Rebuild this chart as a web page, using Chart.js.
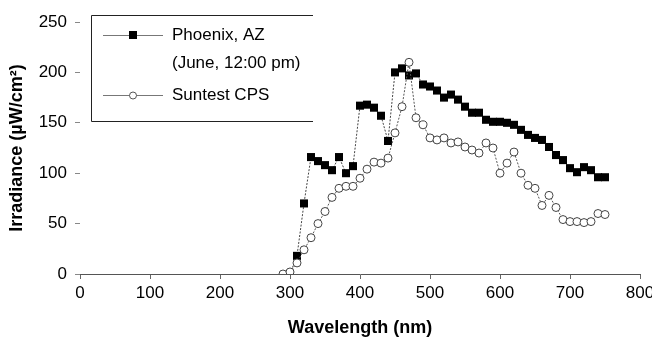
<!DOCTYPE html>
<html>
<head>
    <title>Irradiance spectrum</title>
    <meta charset="UTF-8">
    <style>
        html, body { margin: 0; padding: 0; background: #fff; }
        #wrap { width: 652px; height: 339px; }
    </style>
</head>
<body>
<div id="wrap"><canvas id="myChart" width="652" height="339"></canvas></div>
<script src="https://cdn.jsdelivr.net/npm/chart.js@4/dist/chart.umd.min.js"></script>
<script>
    // wavelengths (nm), one point every 10 nm
    const wavelengths = [290, 300, 310, 320, 330, 340, 350, 360, 370, 380, 390,
        400, 410, 420, 430, 440, 450, 460, 470, 480, 490,
        500, 510, 520, 530, 540, 550, 560, 570, 580, 590,
        600, 610, 620, 630, 640, 650, 660, 670, 680, 690,
        700, 710, 720, 730, 740, 750];
    // irradiance, uW/cm2 (null = no reading)
    const phoenix = [null, 0, 18, 70, 116, 112, 108, 103, 116, 100, 107,
        167, 168, 165, 157, 132, 200, 204, 197, 199, 188,
        186, 182, 175, 178, 173, 166, 160, 160, 153, 151,
        151, 150, 148, 143, 138, 135, 133, 126, 118, 113,
        105, 101, 106, 103, 96, 96];
    const suntest = [0, 2, 11, 24, 36, 50, 62, 76, 85, 87, 87,
        95, 104, 111, 110, 115, 140, 166, 210, 155, 148,
        135, 133, 135, 130, 131, 126, 123, 120, 130, 125,
        100, 110, 121, 100, 88, 85, 68, 78, 66, 54,
        52, 52, 51, 52, 60, 59];
    const seriesNames = [['Phoenix, AZ', '(June, 12:00 pm)'], ['Suntest CPS']];
    const xTicks = [0, 800, 100];
    const yTicks = [0, 250, 50];

    function toPoints(values) {
        const pts = [];
        for (let i = 0; i < wavelengths.length; i++) {
            if (values[i] !== null) pts.push({x: wavelengths[i], y: values[i]});
        }
        return pts;
    }

    const font = '"Liberation Sans", Arial, sans-serif';

    // legend box drawn by hand: line with marker in the middle, two-line label
    const boxLegend = {
        id: 'boxLegend',
        afterDraw(chart) {
            const ctx = chart.ctx;
            ctx.save();
            ctx.strokeStyle = '#222';
            ctx.lineWidth = 1;
            ctx.beginPath();
            ctx.moveTo(313, 15.5);
            ctx.lineTo(91.5, 15.5);
            ctx.lineTo(91.5, 121.5);
            ctx.lineTo(313, 121.5);
            ctx.stroke();

            const rows = [35, 95];
            chart.data.datasets.forEach((ds, i) => {
                const y = rows[i];
                ctx.strokeStyle = '#777';
                ctx.setLineDash([]);
                ctx.beginPath();
                ctx.moveTo(103, y + 0.5);
                ctx.lineTo(163, y + 0.5);
                ctx.stroke();
                if (i === 0) {
                    ctx.fillStyle = '#000';
                    ctx.fillRect(129, y - 4, 8, 8);
                } else {
                    ctx.fillStyle = '#fff';
                    ctx.strokeStyle = '#555';
                    ctx.beginPath();
                    ctx.arc(133, y + 0.5, 3.5, 0, Math.PI * 2);
                    ctx.fill();
                    ctx.stroke();
                }
                ctx.fillStyle = '#000';
                ctx.font = '17px ' + font;
                ctx.textBaseline = 'middle';
                ctx.textAlign = 'left';
                seriesNames[i].forEach((line, k) => {
                    ctx.fillText(line, 172, y + k * 28);
                });
            });
            ctx.restore();
        }
    };

    const ctx = document.getElementById('myChart').getContext('2d');
    const myChart = new Chart(ctx, {
        type: 'line',
        data: {
            datasets: [
                {
                    label: 'Phoenix, AZ (June, 12:00 pm)',
                    data: toPoints(phoenix),
                    borderColor: '#444',
                    borderWidth: 1,
                    borderDash: [2, 1.5],
                    pointStyle: 'rect',
                    pointRadius: 5.7,
                    pointBackgroundColor: '#000',
                    pointBorderColor: '#000',
                    pointBorderWidth: 0,
                    tension: 0,
                    order: 1
                },
                {
                    label: 'Suntest CPS',
                    data: toPoints(suntest),
                    borderColor: '#555',
                    borderWidth: 1,
                    borderDash: [2, 1.5],
                    pointStyle: 'circle',
                    pointRadius: 4,
                    pointBackgroundColor: '#fff',
                    pointBorderColor: '#444',
                    pointBorderWidth: 1,
                    tension: 0,
                    order: 0
                }
            ]
        },
        options: {
            responsive: false,
            animation: false,
            layout: {padding: {top: 22, right: 12, left: 0, bottom: 0}},
            plugins: {
                legend: {display: false},
                tooltip: {enabled: false}
            },
            scales: {
                x: {
                    type: 'linear',
                    min: xTicks[0],
                    max: xTicks[1],
                    afterFit: (scale) => {
                        scale.height = 65;
                        scale.paddingRight = 0;
                        scale.paddingLeft = 0;
                    },
                    ticks: {
                        stepSize: xTicks[2],
                        color: '#000',
                        padding: 4,
                        font: {family: font, size: 17}
                    },
                    grid: {drawOnChartArea: false, tickLength: 5, color: '#666'},
                    border: {display: true, color: '#555', width: 1},
                    title: {
                        display: true,
                        text: 'Wavelength (nm)',
                        color: '#000',
                        padding: {top: 0, bottom: 0},
                        font: {family: font, size: 18, weight: 'bold'}
                    }
                },
                y: {
                    min: yTicks[0],
                    max: yTicks[1],
                    afterFit: (scale) => { scale.width = 80; },
                    ticks: {
                        stepSize: yTicks[2],
                        color: '#000',
                        padding: 8,
                        font: {family: font, size: 17}
                    },
                    grid: {drawOnChartArea: false, tickLength: 5, color: '#888'},
                    border: {display: false},
                    title: {
                        display: true,
                        text: 'Irradiance (µW/cm²)',
                        color: '#000',
                        padding: {top: 6, bottom: 0},
                        font: {family: font, size: 18, weight: 'bold'}
                    }
                }
            }
        },
        plugins: [boxLegend]
    });
</script>
</body>
</html>
